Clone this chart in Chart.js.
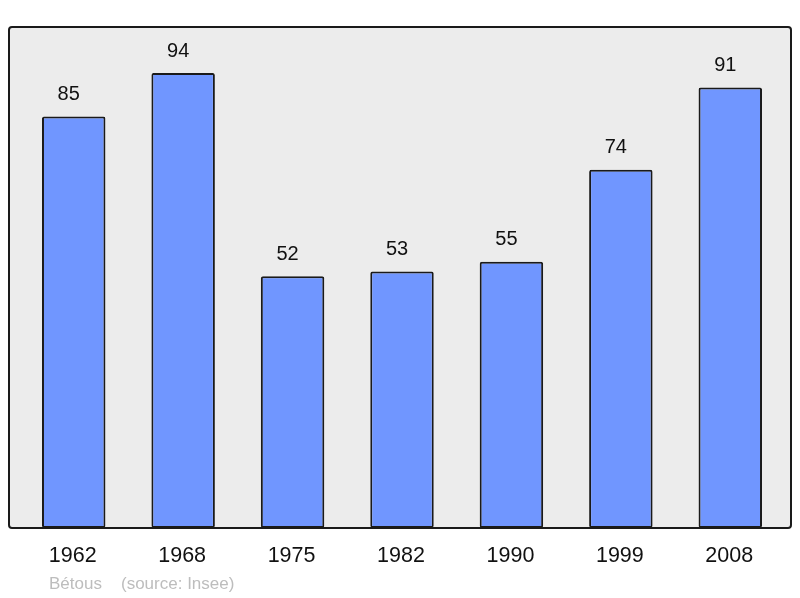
<!DOCTYPE html>
<html>
<head>
<meta charset="utf-8">
<script src="https://cdn.jsdelivr.net/npm/chart.js@4/dist/chart.umd.min.js"></script>
<style>
  html, body { margin: 0; padding: 0; background: #ffffff; }
  #wrap { width: 800px; height: 598px; position: relative; }
</style>
</head>
<body>
<div id="wrap"><canvas id="chart" width="800" height="598"></canvas></div>
<script>
// population by census year
const years = ["1962", "1968", "1975", "1982", "1990", "1999", "2008"];
const population = [85, 94, 52, 53, 55, 74, 91];
const footerPlace = "Bétous";
const footerSource = "(source: Insee)";

// frame behind the bars, labels on top
const framePlugin = {
  id: "frame",
  beforeDatasetsDraw(chart) {
    const ctx = chart.ctx;
    ctx.save();
    ctx.beginPath();
    ctx.roundRect(9, 27, 782, 501, 3);
    ctx.fillStyle = "#ececec";
    ctx.fill();
    ctx.restore();
  },
  afterDatasetsDraw(chart) {
    const ctx = chart.ctx;
    const x = chart.scales.x;
    const meta = chart.getDatasetMeta(0);
    ctx.save();
    ctx.beginPath();
    ctx.roundRect(9, 27, 782, 501, 3);
    ctx.lineWidth = 2;
    ctx.strokeStyle = "#1a1a1a";
    ctx.stroke();

    ctx.fillStyle = "#111";
    ctx.textAlign = "center";
    ctx.textBaseline = "middle";
    ctx.font = "20px 'Liberation Sans', Arial, sans-serif";
    meta.data.forEach((bar, i) => {
      ctx.fillText(String(population[i]), bar.x - 5, bar.y - 22);
    });

    ctx.font = "21.5px 'Liberation Sans', Arial, sans-serif";
    years.forEach((y, i) => {
      ctx.fillText(y, x.getPixelForValue(i) - 1, 556);
    });

    ctx.fillStyle = "#bdbdbd";
    ctx.textAlign = "left";
    ctx.font = "17px 'Liberation Sans', Arial, sans-serif";
    ctx.fillText(footerPlace, 49, 584);
    ctx.fillText(footerSource, 121, 584);
    ctx.restore();
  }
};

new Chart(document.getElementById("chart").getContext("2d"), {
  type: "bar",
  data: {
    labels: years,
    datasets: [{
      data: population,
      backgroundColor: "#7096ff",
      borderColor: "#1a1a1a",
      borderWidth: 2,
      borderRadius: 2,
      borderSkipped: false,
      categoryPercentage: 1,
      barPercentage: 0.58
    }]
  },
  options: {
    responsive: false,
    animation: false,
    layout: { padding: { left: 19, right: 15, top: 27, bottom: 70 } },
    plugins: { legend: { display: false }, tooltip: { enabled: false } },
    scales: {
      x: { display: false },
      y: { display: false, min: 0, max: 103.5 }
    }
  },
  plugins: [framePlugin]
});
</script>
</body>
</html>
